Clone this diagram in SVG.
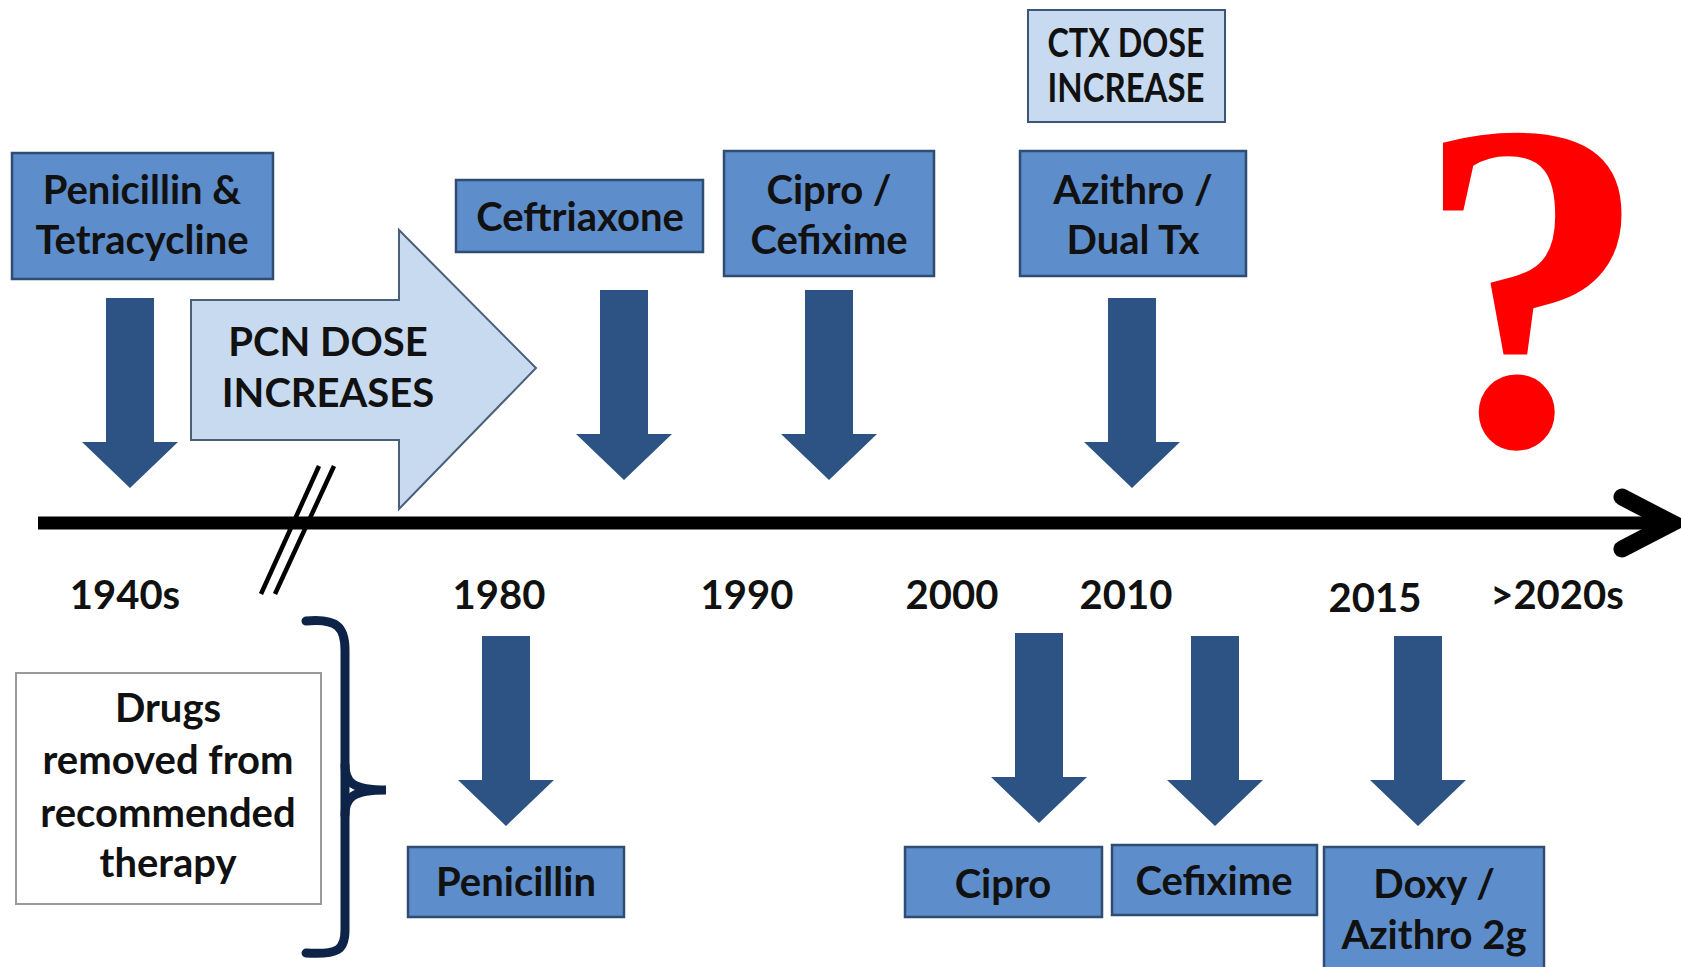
<svg xmlns="http://www.w3.org/2000/svg" xmlns:xlink="http://www.w3.org/1999/xlink" width="1681" height="967" viewBox="0 0 1681 967">
<style>
.box{fill:#5d8dca;stroke:#2f4c72;stroke-width:2.5}
.lbox{fill:#c8daf0;stroke:#3e5676;stroke-width:2}
.wbox{fill:#ffffff;stroke:#9a9a9a;stroke-width:2}
.t{font-family:Lato,"Open Sans","Liberation Sans",sans-serif;font-weight:bold;font-size:40px;fill:#111111;text-anchor:middle}
.arr{fill:#2c5383}
</style>
<defs>
<path id="darr" d="M-24,-190 H24 V-46 H48 L0,0 L-48,-46 H-24 Z"/>
</defs>
<rect width="1681" height="967" fill="#ffffff"/>

<g id="connectors">
<line x1="38" y1="523" x2="1670" y2="523" stroke="#000" stroke-width="13"/>
<polyline points="1622,497 1672,523 1622,549" fill="none" stroke="#000" stroke-width="17" stroke-linecap="round" stroke-linejoin="miter"/>
<line x1="261" y1="594" x2="319" y2="466" stroke="#000" stroke-width="4.5"/>
<line x1="275" y1="594" x2="334" y2="466" stroke="#000" stroke-width="4.5"/>
<use href="#darr" class="arr" x="130" y="488"/>
<use href="#darr" class="arr" x="624" y="480"/>
<use href="#darr" class="arr" x="829" y="480"/>
<use href="#darr" class="arr" x="1132" y="488"/>
<use href="#darr" class="arr" x="506" y="826"/>
<use href="#darr" class="arr" x="1039" y="823"/>
<use href="#darr" class="arr" x="1215" y="826"/>
<use href="#darr" class="arr" x="1418" y="826"/>
</g>

<g id="pcn-dose">
<polygon points="191,300 399,300 399,230 536,368 399,509 399,440 191,440" fill="#c8daf0" stroke="#4a5f78" stroke-width="2"/>
<text class="t" x="328" y="356">PCN DOSE</text>
<text class="t" x="328" y="407">INCREASES</text>
</g>

<g id="pen-tet">
<rect class="box" x="12" y="153" width="261" height="126"/>
<text class="t" x="142" y="204">Penicillin &amp;</text>
<text class="t" x="142" y="254">Tetracycline</text>
</g>

<g id="ceftriaxone">
<rect class="box" x="456" y="180" width="247" height="72"/>
<text class="t" x="580" y="231">Ceftriaxone</text>
</g>

<g id="cipro-cefixime">
<rect class="box" x="724" y="151" width="210" height="125"/>
<text class="t" x="829" y="204">Cipro /</text>
<text class="t" x="829" y="254">Cefixime</text>
</g>

<g id="ctx-dose">
<rect class="lbox" x="1028" y="10" width="197" height="112"/>
<text class="t" x="1126" y="57" textLength="157" lengthAdjust="spacingAndGlyphs">CTX DOSE</text>
<text class="t" x="1126" y="102" textLength="157" lengthAdjust="spacingAndGlyphs">INCREASE</text>
</g>

<g id="azithro-dual">
<rect class="box" x="1020" y="151" width="226" height="125"/>
<text class="t" x="1133" y="204">Azithro /</text>
<text class="t" x="1133" y="254">Dual Tx</text>
</g>

<g id="question">
<text x="1532" y="444" font-family="'Liberation Serif',serif" font-weight="bold" font-size="470" fill="#ff0000" text-anchor="middle">?</text>
</g>

<g id="years">
<text class="t" x="125" y="609">1940s</text>
<text class="t" x="499" y="609">1980</text>
<text class="t" x="747" y="609">1990</text>
<text class="t" x="952" y="609">2000</text>
<text class="t" x="1126" y="609">2010</text>
<text class="t" x="1375" y="612">2015</text>
<text class="t" x="1557" y="609">&gt;2020s</text>
</g>

<g id="removed-note">
<rect class="wbox" x="16" y="673" width="305" height="231"/>
<text class="t" x="168" y="722">Drugs</text>
<text class="t" x="168" y="774">removed from</text>
<text class="t" x="168" y="827">recommended</text>
<text class="t" x="168" y="877">therapy</text>
</g>

<g id="bracket">
<path d="M306,621 C338,618 345,628 345,650 L345,930 C345,950 338,955 306,953" fill="none" stroke="#0d2347" stroke-width="9" stroke-linecap="round"/>
<path d="M345,765 C345,782 352,790 386,790 C352,790 345,798 345,815" fill="none" stroke="#0d2347" stroke-width="9" stroke-linecap="round"/>
</g>

<g id="penicillin">
<rect class="box" x="408" y="847" width="216" height="70"/>
<text class="t" x="516" y="896">Penicillin</text>
</g>

<g id="cipro">
<rect class="box" x="905" y="847" width="197" height="70"/>
<text class="t" x="1003" y="898">Cipro</text>
</g>

<g id="cefixime">
<rect class="box" x="1112" y="845" width="205" height="70"/>
<text class="t" x="1214" y="895">Cefixime</text>
</g>

<g id="doxy-azithro">
<rect class="box" x="1324" y="847" width="220" height="130"/>
<text class="t" x="1434" y="898">Doxy /</text>
<text class="t" x="1434" y="949">Azithro 2g</text>
</g>
</svg>
